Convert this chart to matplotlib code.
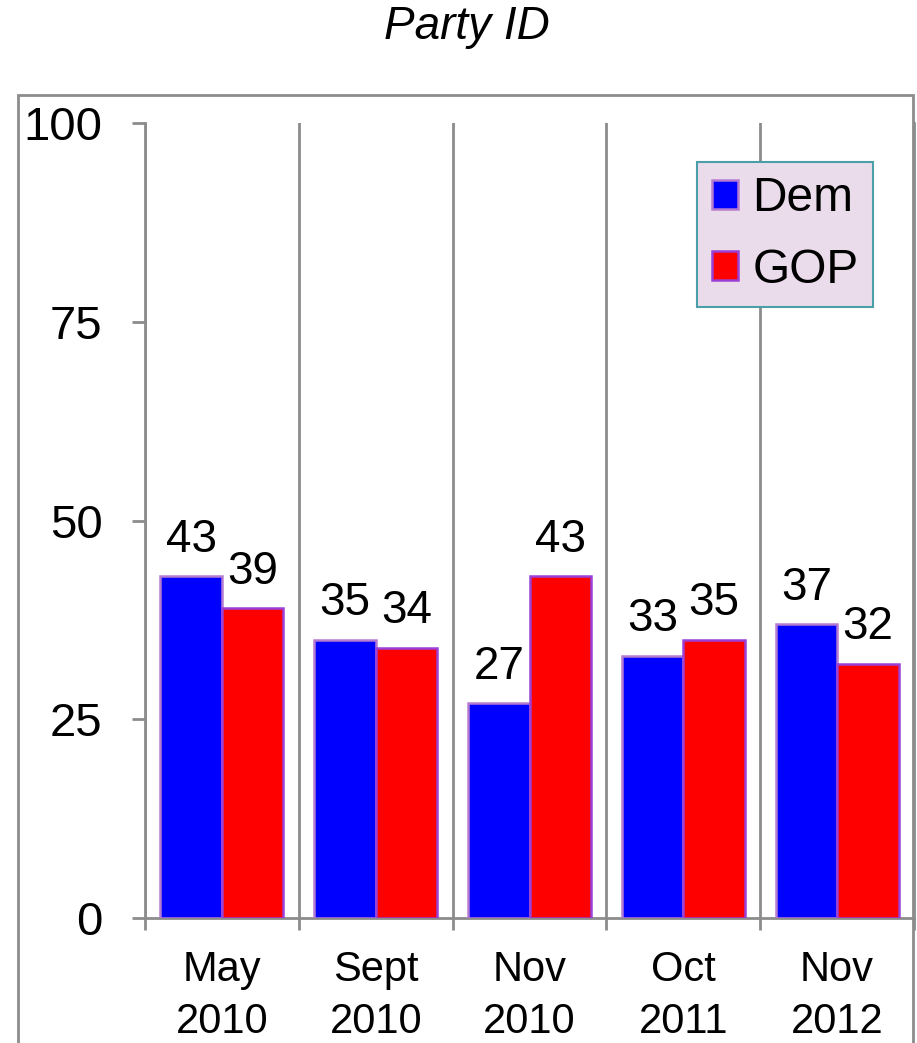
import matplotlib
matplotlib.use("Agg")
import matplotlib.pyplot as plt
from matplotlib.patches import Rectangle
import numpy as np

plt.rcParams['font.family'] = ['Liberation Sans', 'DejaVu Sans']

categories = ["May\n2010", "Sept\n2010", "Nov\n2010", "Oct\n2011", "Nov\n2012"]
dem = [43, 35, 27, 33, 37]
gop = [39, 34, 43, 35, 32]
yticks = [0, 25, 50, 75, 100]

W, H = 917, 1043
fig = plt.figure(figsize=(W/100, H/100), dpi=100)

gray = '#8c8c8c'
# outer frame
fig.patches.append(Rectangle((18/W, -0.01), (913-18)/W, 1 - 95/H + 0.01,
                             transform=fig.transFigure, fill=False,
                             edgecolor=gray, linewidth=2.0, zorder=0))

ax = fig.add_axes([145/W, 1 - 918/H, (914-145)/W, (918-123)/H])
x = np.arange(len(categories))
bw = 0.4
b1 = ax.bar(x - bw/2, dem, bw, color='#0000ff', edgecolor='#b57bd1', linewidth=1.8, label='Dem', zorder=3)
b2 = ax.bar(x + bw/2, gop, bw, color='#ff0000', edgecolor='#9b3fd6', linewidth=1.8, label='GOP', zorder=3)

for xi, v in zip(x - bw/2, dem):
    ax.text(xi, v + 1.8, str(v), ha='center', va='bottom', fontsize=33)
for xi, v in zip(x + bw/2, gop):
    ax.text(xi, v + 1.8, str(v), ha='center', va='bottom', fontsize=33)

ax.set_xlim(-0.5, len(categories) - 0.5)
ax.set_ylim(0, 100)
ax.set_yticks(yticks)
ax.set_yticklabels([str(t) for t in yticks], fontsize=34)
ax.tick_params(axis='y', length=9.5, width=2, color=gray, pad=21)

# gridlines at category boundaries
bounds = np.arange(len(categories) + 1) - 0.5
ax.set_xticks(bounds)
ax.set_xticklabels([])
ax.tick_params(axis='x', which='major', length=8.6, width=2, color=gray, direction='out')
ax.set_xticks(x, minor=True)
ax.set_xticklabels(categories, minor=True, fontsize=30, linespacing=1.38)
ax.tick_params(axis='x', which='minor', length=0, pad=23)
ax.grid(axis='x', which='major', color=gray, linewidth=2, zorder=0)

ax.spines['top'].set_visible(False)
for s in ['left', 'bottom', 'right']:
    ax.spines[s].set_color(gray)
    ax.spines[s].set_linewidth(2)

leg = ax.legend(loc='upper right', bbox_to_anchor=((873-145)/(914-145), (918-162)/(918-123)),
                fontsize=34.5, frameon=True, fancybox=False, handlelength=0.55, handleheight=0.55,
                handletextpad=0.3, borderpad=0.3, labelspacing=0.55, borderaxespad=0)
leg.get_frame().set_facecolor('#ebdcec')
leg.get_frame().set_edgecolor('#4a9fa8')
leg.get_frame().set_linewidth(1.5)
leg.get_frame().set_alpha(1)

fig.text(467/W, 1 - 27/H, "Party ID", ha='center', va='center', fontsize=33, style='italic')

fig.savefig("out.png", dpi=100)
